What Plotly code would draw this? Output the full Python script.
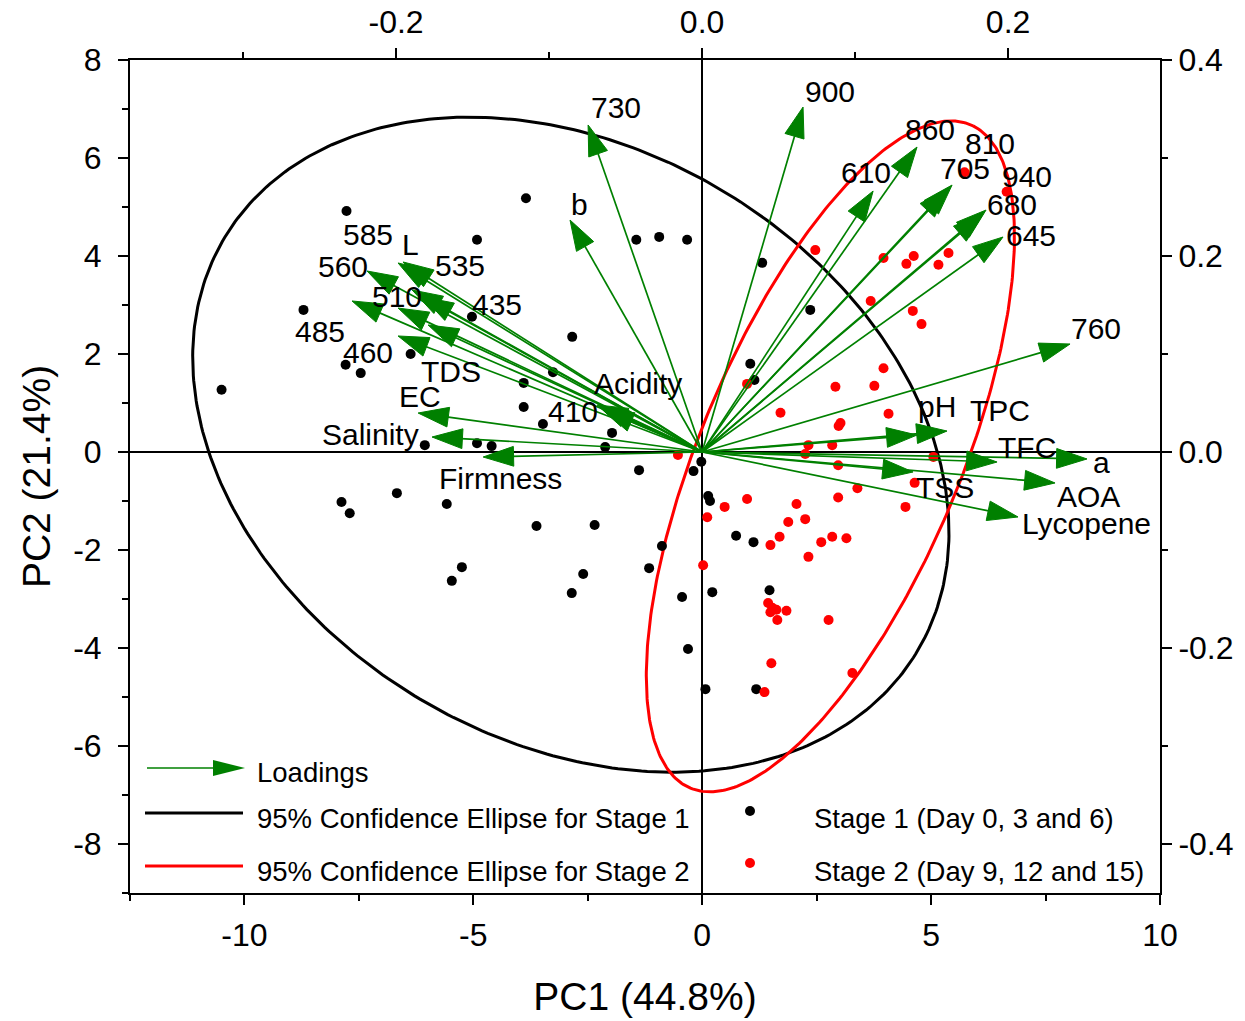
import numpy as np
import plotly.graph_objects as go

# ---------------- data ----------------
stage1_pc1 = [-7.77, -8.71, -7.79, -7.46, -6.37, -10.50, -6.06, -4.92, -5.03, -4.92,
              -3.85, -1.44, -0.94, -0.33, -2.84, -3.26, -3.90, -3.90, -3.48, -1.97,
              -2.12, -4.60, 1.31, 2.36, 1.05, 1.14, -0.02, -0.19, -1.38, 0.13,
              0.17, -3.62, -2.35, 0.74, 1.12, -0.88, -1.16, -2.60, -2.85, -0.44,
              0.22, 1.47, -0.31, 0.07, 1.18, -6.67, -7.88, -7.70, -5.58, -5.25, -5.47]
stage1_pc2 = [4.92, 2.90, 1.78, 1.61, 2.00, 1.27, 0.14, 4.33, 2.76, 0.18,
              5.18, 4.33, 4.39, 4.33, 2.35, 1.63, 1.41, 0.92, 0.57, 0.39,
              0.10, 0.12, 3.86, 2.90, 1.80, 1.47, -0.20, -0.39, -0.37, -0.90,
              -1.00, -1.51, -1.49, -1.71, -1.84, -1.92, -2.37, -2.49, -2.88, -2.96,
              -2.86, -2.82, -4.02, -4.84, -4.84, -0.84, -1.02, -1.25, -1.06, -2.35, -2.63]

stage2_pc1 = [0.98, 1.71, 2.32, -0.53, 2.47, 0.49, 0.98, 0.11, 1.49, 1.69,
              1.88, 2.06, 2.25, 2.32, 2.60, 0.02, 1.44, 1.53, 1.62, 1.84,
              1.49, 1.64, 1.51, 1.36, 5.73, 6.65, 3.96, 4.62, 4.46, 5.38,
              5.16, 3.68, 4.60, 4.79, 3.96, 2.91, 3.76, 4.07, 2.98, 3.02,
              2.84, 2.25, 5.05, 2.97, 3.39, 4.64, 2.97, 4.44, 2.84, 3.15,
              2.76, 3.28]
stage2_pc2 = [1.39, 0.80, 0.14, -0.06, 4.12, -1.12, -0.96, -1.33, -1.90, -1.73,
              -1.43, -1.06, -1.37, -2.14, -1.84, -2.31, -3.08, -3.18, -3.22, -3.24,
              -3.27, -3.43, -4.31, -4.90, 5.71, 5.31, 3.96, 4.00, 3.84, 4.06,
              3.82, 3.08, 2.88, 2.61, 1.71, 1.33, 1.35, 0.78, 0.53, 0.59,
              0.14, -0.04, -0.10, -0.27, -0.74, -0.63, -0.93, -1.12, -1.73, -1.76,
              -3.43, -4.51]

loading_names = ["900", "730", "b", "860", "610", "705", "810", "940", "680", "645",
                 "760", "TPC", "pH", "TFC", "a", "AOA", "Lycopene", "TSS",
                 "Firmness", "Salinity", "EC", "TDS", "460", "485", "510", "435",
                 "535", "560", "585", "L", "Acidity", "410"]
loading_pc1 = [0.0660, -0.0745, -0.0863, 0.1405, 0.1118, 0.1634, 0.1608, 0.1856, 0.1837, 0.1967,
               0.2405, 0.1601, 0.1405, 0.1928, 0.2516, 0.2307, 0.2065, 0.1379,
               -0.1431, -0.1765, -0.1856, -0.1791, -0.1987, -0.2288, -0.1987, -0.1824,
               -0.1895, -0.2190, -0.1987, -0.1954, -0.0686, -0.0647]
loading_pc2 = [0.3520, 0.3337, 0.2367, 0.3112, 0.2663, 0.2724, 0.2694, 0.2469, 0.2429, 0.2194,
               0.1102, 0.0214, 0.0173, -0.0102, -0.0071, -0.0316, -0.0663, -0.0204,
               -0.0051, 0.0153, 0.0398, 0.1296, 0.1184, 0.1541, 0.1469, 0.1582,
               0.1653, 0.1847, 0.1929, 0.1939, 0.0480, 0.0429]

# 95% confidence ellipses: centre (PC1, PC2), semi-axes, rotation (deg)
ellipse_names = ["Stage 1", "Stage 2"]
ellipse_cx = [-2.87, 2.80]
ellipse_cy = [0.15, -0.09]
ellipse_a = [8.68, 7.43]
ellipse_b = [6.13, 2.80]
ellipse_deg = [-25.7, 65.2]

x_ticks = [-10, -5, 0, 5, 10]
x_tick_text = ["-10", "-5", "0", "5", "10"]
y_ticks = [-8, -6, -4, -2, 0, 2, 4, 6, 8]
y_tick_text = ["-8", "-6", "-4", "-2", "0", "2", "4", "6", "8"]
x2_ticks = [-0.2, 0.0, 0.2]
x2_tick_text = ["-0.2", "0.0", "0.2"]
y2_ticks = [-0.4, -0.2, 0.0, 0.2, 0.4]
y2_tick_text = ["-0.4", "-0.2", "0.0", "0.2", "0.4"]

legend_labels = ["Loadings", "95% Confidence Ellipse for Stage 1",
                 "95% Confidence Ellipse for Stage 2",
                 "Stage 1 (Day 0, 3 and 6)", "Stage 2 (Day 9, 12 and 15)"]

# ---------------- styles ----------------
GREEN = "rgb(0,128,0)"
RED = "rgb(255,0,0)"
FONT = "Arial, Liberation Sans, sans-serif"
W, H = 1245, 1021
ML, MR, MT, MB = 130, 85, 60, 128
PW, PH = W - ML - MR, H - MT - MB

# label offsets in pixels (dx right, dy down) relative to arrow tip
label_offsets = {
    "900": (27, -16), "730": (28, -17), "b": (9, -16), "860": (13, -18),
    "610": (-7, -19), "705": (13, -17), "810": (42, -44), "940": (41, -34),
    "680": (29, -9), "645": (28, -1), "760": (26, -16), "TPC": (53, -21),
    "pH": (20, -29), "TFC": (30, -15), "a": (14, 4), "AOA": (33, 14),
    "Lycopene": (68, 7), "TSS": (32, 16), "Firmness": (17, 21),
    "Salinity": (-62, -3), "EC": (2, -17), "TDS": (23, 47), "460": (-30, 17),
    "485": (-32, 31), "510": (-1, -12), "435": (74, 8), "535": (48, -25),
    "560": (-24, -4), "585": (-30, -28), "L": (7, -17), "Acidity": (41, -21),
    "410": (-30, 2),
}


def px(x):
    return (x - ML) / PW


def py(y):
    return (H - MB - y) / PH


fig = go.Figure()

# ellipses
t = np.linspace(0, 2 * np.pi, 400)
for cx, cy, a, b, deg, col in zip(ellipse_cx, ellipse_cy, ellipse_a, ellipse_b,
                                  ellipse_deg, ["black", RED]):
    th = np.deg2rad(deg)
    ex = cx + a * np.cos(t) * np.cos(th) - b * np.sin(t) * np.sin(th)
    ey = cy + a * np.cos(t) * np.sin(th) + b * np.sin(t) * np.cos(th)
    fig.add_trace(go.Scatter(x=ex, y=ey, mode="lines",
                             line=dict(color=col, width=3), hoverinfo="skip"))

# scores
fig.add_trace(go.Scatter(x=stage1_pc1, y=stage1_pc2, mode="markers",
                         marker=dict(color="black", size=10), name=legend_labels[3]))
fig.add_trace(go.Scatter(x=stage2_pc1, y=stage2_pc2, mode="markers",
                         marker=dict(color=RED, size=10), name=legend_labels[4]))

# loadings arrows
ax, ay, sym, siz = [], [], [], []
for lx, ly in zip(loading_pc1, loading_pc2):
    ax += [0, lx, None]
    ay += [0, ly, None]
    sym += ["circle", "arrow", "circle"]
    siz += [0, 32, 0]
fig.add_trace(go.Scatter(x=ax, y=ay, xaxis="x2", yaxis="y2", mode="lines+markers",
                         line=dict(color=GREEN, width=1.7),
                         marker=dict(symbol=sym, size=siz, color=GREEN, opacity=1,
                                     angleref="previous", line=dict(width=1, color=GREEN)),
                         hoverinfo="skip"))

for name, lx, ly in zip(loading_names, loading_pc1, loading_pc2):
    dx, dy = label_offsets[name]
    fig.add_annotation(x=lx, y=ly, xref="x2", yref="y2", text=name, showarrow=False,
                       xshift=dx, yshift=-dy, font=dict(size=30, family=FONT, color="black"))

# ---------------- manual legend ----------------
shapes = []
shapes.append(dict(type="line", xref="paper", yref="paper", x0=px(147), x1=px(222),
                   y0=py(768), y1=py(768), line=dict(color=GREEN, width=1.6)))
shapes.append(dict(type="path", xref="paper", yref="paper",
                   path=f"M {px(245)},{py(768)} L {px(213)},{py(760)} L {px(213)},{py(776)} Z",
                   fillcolor=GREEN, line=dict(color=GREEN, width=0)))
shapes.append(dict(type="line", xref="paper", yref="paper", x0=px(145), x1=px(243),
                   y0=py(813), y1=py(813), line=dict(color="black", width=3)))
shapes.append(dict(type="line", xref="paper", yref="paper", x0=px(145), x1=px(243),
                   y0=py(866), y1=py(866), line=dict(color=RED, width=3)))
for cy_, col in [(811, "black"), (863, RED)]:
    shapes.append(dict(type="circle", xref="paper", yref="paper",
                       x0=px(745), x1=px(755), y0=py(cy_ + 5), y1=py(cy_ - 5),
                       fillcolor=col, line=dict(color=col, width=0)))
fig.update_layout(shapes=shapes)

legend_pos = [(255, 772), (255, 818), (255, 871), (812, 818), (812, 871)]
for txt, (lx, ly) in zip(legend_labels, legend_pos):
    fig.add_annotation(x=px(lx), y=py(ly), xref="paper", yref="paper", text=txt,
                       showarrow=False, xanchor="left", yanchor="middle",
                       font=dict(size=27.5, family=FONT, color="black"))

axis_common = dict(showline=True, linecolor="black", linewidth=2, ticks="outside",
                   ticklen=10, tickwidth=2, tickcolor="black", showgrid=False,
                   tickfont=dict(size=32, family=FONT, color="black"), mirror=False,
                   automargin=False)

fig.update_layout(
    width=W, height=H, margin=dict(l=ML, r=MR, t=MT, b=MB, autoexpand=False),
    plot_bgcolor="white", paper_bgcolor="white", showlegend=False,
    font=dict(family=FONT, color="black"),
    xaxis=dict(range=[-12.5, 10], tickmode="array", tickvals=x_ticks, ticktext=x_tick_text,
               minor=dict(tickvals=[-12.5, -7.5, -2.5, 2.5, 7.5], ticklen=6, tickwidth=2,
                          tickcolor="black", ticks="outside"),
               zeroline=True, zerolinecolor="black", zerolinewidth=1.5,
               ticklabelstandoff=3,
               title=dict(text="PC1 (44.8%)", font=dict(size=39, family=FONT), standoff=30),
               **axis_common),
    yaxis=dict(range=[-9, 8], tickmode="array", tickvals=y_ticks, ticktext=y_tick_text,
               minor=dict(tickvals=[-9, -7, -5, -3, -1, 1, 3, 5, 7], ticklen=6, tickwidth=2,
                          tickcolor="black", ticks="outside"),
               zeroline=True, zerolinecolor="black", zerolinewidth=1.5,
               ticklabelstandoff=10,
               title=dict(text="PC2 (21.4%)", font=dict(size=39, family=FONT), standoff=10),
               **axis_common),
    xaxis2=dict(range=[-0.3739, 0.2993], overlaying="x", anchor="y", side="top",
                tickmode="array", tickvals=x2_ticks, ticktext=x2_tick_text,
                minor=dict(tickvals=[-0.3, -0.1, 0.1], ticklen=6, tickwidth=2,
                           tickcolor="black", ticks="outside"),
                ticklabelstandoff=2,
                zeroline=False, **axis_common),
    yaxis2=dict(range=[-0.45, 0.4], overlaying="y", anchor="x", side="right",
                tickmode="array", tickvals=y2_ticks, ticktext=y2_tick_text,
                minor=dict(tickvals=[-0.3, -0.1, 0.1, 0.3], ticklen=6, tickwidth=2,
                           tickcolor="black", ticks="outside"),
                zeroline=False, **axis_common),
)

fig.write_html("out.html")
